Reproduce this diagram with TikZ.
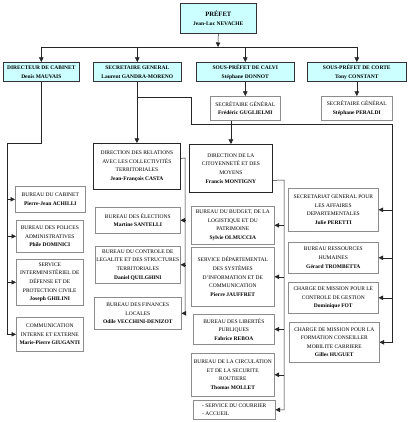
\documentclass[tikz,border=0pt]{standalone}
\usepackage{fontspec}
\setmainfont{Liberation Serif}
\definecolor{mIce}{HTML}{CCFFFF}
\usetikzlibrary{arrows.meta}

\begin{document}
\begin{tikzpicture}[x=1pt, y=-1pt,
  orgbox/.style={anchor=north west, align=center, inner sep=0.8pt, line width=0.6pt},
  headbox/.style={orgbox, draw=black!80, fill=mIce, font=\fontsize{5.5}{9}\selectfont\bfseries},
  officebox/.style={orgbox, draw=black!45, font=\fontsize{5.5}{8.6}\selectfont},
  dirbox/.style={officebox, draw=black!85, line width=0.8pt},
  wire/.style={draw=black!85, line width=0.5pt},
  link/.style={wire, -{Triangle[length=4.5pt, width=4.5pt]}}]
\path[fill=white] (0,0) rectangle (416,422);
\useasboundingbox (0,0) rectangle (416,422);

% top of the chart
\node[headbox, minimum width=76, minimum height=30] (prefet) at (180,3)
  {{\fontsize{6.6}{9}\selectfont PRÉFET}\\Jean-Luc NEVACHE};
\node[headbox, minimum width=76, minimum height=19] (dircab) at (3,62)
  {DIRECTEUR DE CABINET\\Denis MAUVAIS};
\node[headbox, minimum width=88, minimum height=19] (secgen) at (93,62)
  {SECRETAIRE GENERAL\\Laurent GANDRA-MORENO};
\node[headbox, minimum width=98, minimum height=19] (spcalvi) at (196,62)
  {SOUS-PRÉFET DE CALVI\\Stéphane DONNOT};
\node[headbox, minimum width=99, minimum height=19] (spcorte) at (307,62)
  {SOUS-PRÉFET DE CORTE\\Tony CONSTANT};

\node[officebox, minimum width=70, minimum height=24] (sgcalvi) at (210,96)
  {SECRÉTAIRE GÉNÉRAL\\\textbf{Frédéric GUGLIELMI}};
\node[officebox, minimum width=71, minimum height=24] (sgcorte) at (321,96)
  {SECRÉTAIRE GÉNÉRAL\\\textbf{Stéphane PERALDI}};

% directions
\node[dirbox, minimum width=87, minimum height=46] (dirrel) at (93,143)
  {DIRECTION DES RELATIONS\\AVEC LES COLLECTIVITÉS\\TERRITORIALES\\\textbf{Jean-François CASTA}};
\node[dirbox, minimum width=83, minimum height=48] (dircit) at (189,144)
  {DIRECTION DE LA\\CITOYENNETÉ ET DES\\MOYENS\\\textbf{Francis MONTIGNY}};

% cabinet
\node[officebox, minimum width=70, minimum height=26] (bcab) at (15,186)
  {BUREAU DU CABINET\\\textbf{Pierre-Jean ACHILLI}};
\node[officebox, minimum width=67, minimum height=32] (bpol) at (16,220)
  {BUREAU DES POLICES\\ADMINISTRATIVES\\\textbf{Phile DOMINICI}};
\node[officebox, minimum width=67, minimum height=46] (sidpc) at (16,259)
  {SERVICE\\INTERMINISTÉRIEL DE\\DÉFENSE ET DE\\PROTECTION CIVILE\\\textbf{Joseph GHILINI}};
\node[officebox, minimum width=67, minimum height=34] (bcom) at (16,317)
  {COMMUNICATION\\INTERNE ET EXTERNE\\\textbf{Marie-Pierre GIUGANTI}};

% relations avec les collectivites
\node[officebox, minimum width=85, minimum height=26] (belec) at (95,207)
  {BUREAU DES ÉLECTIONS\\\textbf{Martine SANTELLI}};
\node[officebox, minimum width=85, minimum height=37] (bctrl) at (95,246)
  {BUREAU DU CONTROLE DE\\LEGALITE ET DES STRUCTURES\\TERRITORIALES\\\textbf{Daniel QUILGHINI}};
\node[officebox, minimum width=87, minimum height=32] (bfin) at (94,297)
  {BUREAU DES FINANCES\\LOCALES\\\textbf{Odile VECCHINI-DENIZOT}};

% citoyennete et moyens
\node[officebox, minimum width=83, minimum height=38] (bbud) at (191,206)
  {BUREAU DU BUDGET, DE LA\\LOGISTIQUE ET DU\\PATRIMOINE\\\textbf{Sylvie OLMUCCIA}};
\node[officebox, minimum width=83, minimum height=59] (sdsic) at (191,247)
  {SERVICE DÉPARTEMENTAL\\DES SYSTÈMES\\D'INFORMATION ET DE\\COMMUNICATION\\\textbf{Pierre JAUFFRET}};
\node[officebox, minimum width=81, minimum height=30] (blib) at (193,314)
  {BUREAU DES LIBERTÉS\\PUBLIQUES\\\textbf{Fabrice REBOA}};
\node[officebox, minimum width=83, minimum height=43] (bcirc) at (191,353)
  {BUREAU DE LA CIRCULATION\\ET DE LA SECURITE\\ROUTIERE\\\textbf{Thomas MOLLET}};
\node[officebox, align=left, minimum width=82, minimum height=19] (bcour) at (193,400)
  {- SERVICE DU COURRIER\\- ACCUEIL};

% affaires departementales
\node[officebox, minimum width=90, minimum height=43] (sgad) at (288,188)
  {SECRETARIAT GENERAL POUR\\LES AFFAIRES\\DEPARTEMENTALES\\\textbf{Julie PERETTI}};
\node[officebox, minimum width=90, minimum height=31] (brh) at (288,242)
  {BUREAU RESSOURCES\\HUMAINES\\\textbf{Gérard TROMBETTA}};
\node[officebox, minimum width=90, minimum height=31] (cmcg) at (288,282)
  {CHARGE DE MISSION POUR LE\\CONTROLE DE GESTION\\\textbf{Dominique FOT}};
\node[officebox, minimum width=90, minimum height=40] (cmfc) at (289,322)
  {CHARGE DE MISSION POUR LA\\FORMATION CONSEILLER\\MOBILITE CARRIERE\\\textbf{Gilles HUGUET}};

% connectors
\coordinate (bus) at (218,47);
\coordinate (sgfork) at (136.5,97);
\coordinate (sgbend) at (191,124);
\coordinate (rbus) at (392,124);
\coordinate (cabbend) at (7,143);
\coordinate (relbus) at (185,158);
\coordinate (citbus) at (284,180);

\draw[link] (prefet.south) -- (bus);
\draw[wire] (dircab.north |- bus) -- (spcorte.north |- bus);
\foreach \b in {dircab,secgen,spcalvi,spcorte}
  \draw[link] (\b.north |- bus) -- (\b.north);

\draw[link] (spcalvi.south) -- (sgcalvi.north);
\draw[link] (spcorte.south) -- (sgcorte.north);
\draw[link] (dirrel.north |- secgen.south) -- (dirrel.north);
\draw[link] (dircit.north |- sgcalvi.south) -- (dircit.north);

\draw[link] (sgfork) -| (sgbend) -| (cmfc.east -| rbus) -- (cmfc.east);
\foreach \b in {sgad,brh,cmcg}
  \draw[link] (\b.east -| rbus) -- (\b.east);

\draw[link] (dircab.south) |- (cabbend) |- (bcom.west);
\foreach \b in {bcab,bpol,sidpc}
  \draw[link] (\b.west -| cabbend) -- (\b.west);

\draw[link] ([yshift=8pt]dirrel.east) -- (relbus) |- (bfin.east);
\foreach \b in {belec,bctrl}
  \draw[link] (\b.east -| relbus) -- (\b.east);

\draw[link] ([yshift=-12pt]dircit.east) -- (citbus) |- (bcour.east);
\foreach \b in {bbud,sdsic,blib,bcirc}
  \draw[link] (\b.east -| citbus) -- (\b.east);
\end{tikzpicture}
\end{document}
